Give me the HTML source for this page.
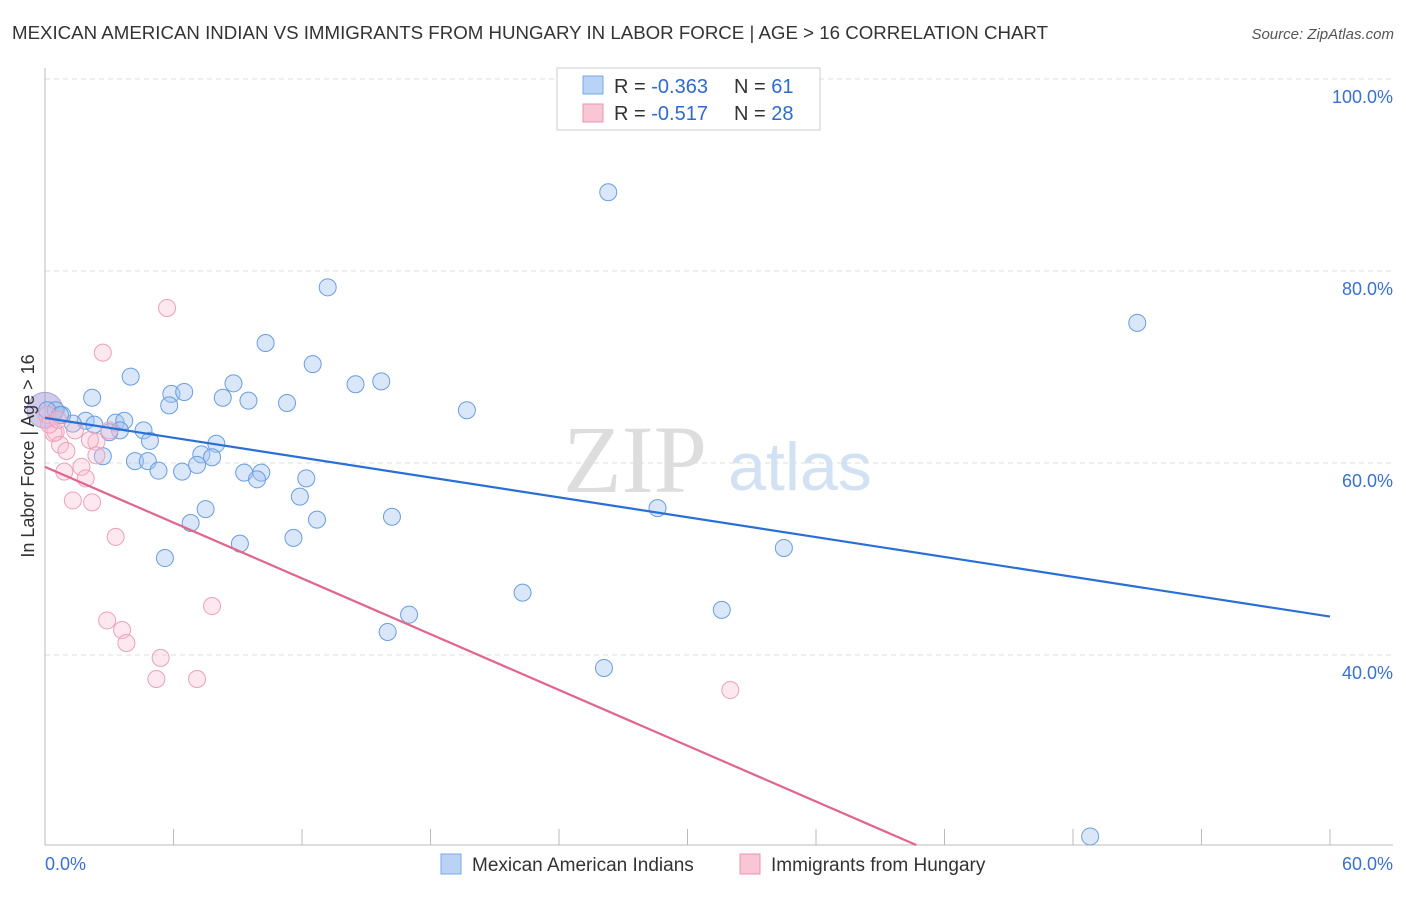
<!DOCTYPE html>
<html><head><meta charset="utf-8"><style>
body{margin:0;background:#fff;font-family:"Liberation Sans",sans-serif;}
</style></head><body>
<svg width="1406" height="892" xmlns="http://www.w3.org/2000/svg">
<text x="12" y="39" font-size="18" fill="#333" textLength="1036" lengthAdjust="spacingAndGlyphs">MEXICAN AMERICAN INDIAN VS IMMIGRANTS FROM HUNGARY IN LABOR FORCE | AGE &gt; 16 CORRELATION CHART</text>
<text x="1394" y="39" font-size="15" fill="#555" font-style="italic" text-anchor="end">Source: ZipAtlas.com</text>
<g id="grid"></g>
<text x="635" y="492" font-size="96" fill="#ddd" font-family="Liberation Serif" text-anchor="middle">ZIP</text>
<text x="800" y="490" font-size="68" fill="#d3e2f3" text-anchor="middle">atlas</text>
<g id="pts"></g>
<g id="lines"></g>
<text transform="translate(34,456) rotate(-90)" font-size="18" fill="#333" text-anchor="middle">In Labor Force | Age &gt; 16</text>
<g>
<rect x="557" y="68" width="263" height="62" fill="#fff" stroke="#ccc"/>
<rect x="583" y="76" width="20" height="18" fill="#b8d3f6" stroke="#7aa7e6"/>
<rect x="583" y="104" width="20" height="18" fill="#f9c6d6" stroke="#eb93b0"/>
<text x="614" y="93" font-size="20" fill="#333">R = <tspan fill="#2f6ad0">-0.363</tspan></text>
<text x="734" y="93" font-size="20" fill="#333">N = <tspan fill="#2f6ad0"> 61</tspan></text>
<text x="614" y="120" font-size="20" fill="#333">R = <tspan fill="#2f6ad0"> -0.517</tspan></text>
<text x="734" y="120" font-size="20" fill="#333">N = <tspan fill="#2f6ad0">28</tspan></text>
</g>
<g>
<rect x="441" y="854" width="20" height="20" fill="#b8d3f6" stroke="#7aa7e6"/>
<text x="472" y="871" font-size="19" fill="#333">Mexican American Indians</text>
<rect x="740" y="854" width="20" height="20" fill="#f9c6d6" stroke="#eb93b0"/>
<text x="771" y="871" font-size="19" fill="#333">Immigrants from Hungary</text>
</g>
<text x="45" y="870" font-size="18" fill="#3a70d0">0.0%</text>
<text x="1393" y="870" font-size="18" fill="#3a70d0" text-anchor="end">60.0%</text>
</svg>
<script>
const yTicks=[100,80,60,40];
const blueX=[26.3,13.2,51.0,10.3,12.5,4.0,8.8,15.7,14.5,5.9,6.5,2.2,8.3,9.5,11.3,5.8,19.7,3.3,3.7,1.9,1.3,0.8,4.6,3.5,4.9,8.0,7.3,7.8,2.7,4.2,4.8,6.4,5.3,9.3,10.1,7.1,9.9,12.2,11.9,7.5,28.6,6.8,12.7,16.2,11.6,9.1,34.5,5.6,22.3,17.0,31.6,16.0,26.1,48.8,0.5,0.1,0.7,2.3,3.0];
const blueY=[88.2,78.3,74.6,72.5,70.3,69.0,68.3,68.5,68.2,67.2,67.4,66.8,66.8,66.5,66.25,66.0,65.5,64.2,64.4,64.4,64.1,65.0,63.4,63.4,62.3,62.0,60.9,60.6,60.7,60.2,60.2,59.1,59.2,59.0,59.0,59.8,58.3,58.4,56.5,55.2,55.3,53.75,54.1,54.4,52.2,51.6,51.15,50.1,46.5,44.2,44.7,42.4,38.65,21.1,65.5,65.5,65.0,64.0,63.2];
const pinkX=[5.7,2.7,0.1,0.5,0.4,0.7,1.0,1.4,1.7,0.9,1.9,2.4,2.4,3.0,1.3,2.2,3.3,7.8,2.9,3.6,3.8,5.4,5.2,7.1,32.0,0.2,0.6,2.1];
const pinkY=[76.15,71.5,65.0,63.2,63.1,61.9,61.25,63.4,59.6,59.1,58.4,62.2,60.8,63.4,56.1,55.9,52.3,45.1,43.6,42.6,41.25,39.7,37.5,37.5,36.35,64.0,64.5,62.4];
const blueTrend=[64.7,44.0];
const pinkTrend=[59.6,1.5];
const xTickVals=[0,6,12,18,24,30,36,42,48,54,60];
const NS='http://www.w3.org/2000/svg';
const X=v=>45+v*1285/60, Y=v=>79+(100-v)*9.6;
function mk(t,a,p){const e=document.createElementNS(NS,t);for(const k in a)e.setAttribute(k,a[k]);p.appendChild(e);return e;}
const grid=document.getElementById('grid');
yTicks.forEach(v=>{
 const l=mk('line',{x1:45,x2:1393,y1:Y(v),y2:Y(v),stroke:'#ddd','stroke-dasharray':'5,4'},grid);
 
 
 const t=mk('text',{x:1393,y:Y(v)+24,'font-size':18,fill:'#3a70d0','text-anchor':'end'},grid);
 t.textContent=v.toFixed(1)+'%';
 
 
});
const ax=mk('line',{x1:45,x2:1393,y1:845,y2:845,stroke:'#bbb'},grid);


const ay=mk('line',{x1:45,x2:45,y1:68,y2:845,stroke:'#bbb'},grid);


xTickVals.forEach(v=>{
 const l=mk('line',{x1:X(v),x2:X(v),y1:829,y2:845,stroke:'#bbb'},grid);
 
 
});
const pts=document.getElementById('pts');
const big=mk('circle',{cx:X(0),cy:Y(65.5),r:18,fill:'rgba(150,140,210,0.45)',stroke:'rgba(140,120,200,0.6)'},pts);


blueX.forEach((x,i)=>{
 const c=mk('circle',{cx:X(x),cy:Y(blueY[i]),r:8.5,fill:'rgba(160,195,240,0.4)',stroke:'#6b9de0','stroke-width':1},pts);
 
 
});
pinkX.forEach((x,i)=>{
 const c=mk('circle',{cx:X(x),cy:Y(pinkY[i]),r:8.5,fill:'rgba(248,190,210,0.35)',stroke:'#eba0bb','stroke-width':1},pts);
 
 
});
const lines=document.getElementById('lines');
const bl=mk('line',{x1:X(0),y1:Y(blueTrend[0]),x2:X(60),y2:Y(blueTrend[1]),stroke:'#2a6fd6','stroke-width':2.2},lines);


const yb=100-(845-79)/9.6;
const xe=60*(pinkTrend[0]-yb)/(pinkTrend[0]-pinkTrend[1]);
const pl=mk('line',{x1:X(0),y1:Y(pinkTrend[0]),x2:X(xe),y2:Y(yb),stroke:'#e0658f','stroke-width':2.2},lines);


</script>
</body></html>
